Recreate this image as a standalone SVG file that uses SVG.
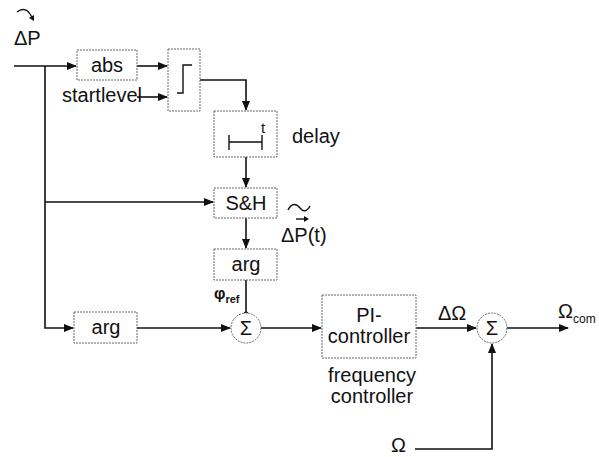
<svg xmlns="http://www.w3.org/2000/svg" width="599" height="457" viewBox="0 0 599 457">
<defs>
<marker id="ah" markerWidth="10" markerHeight="8" refX="9" refY="4" orient="auto" markerUnits="userSpaceOnUse">
<path d="M0,0 L10,4 L0,8 Z" fill="#111"/>
</marker>
<style>
.box{fill:#fff;stroke:#666;stroke-width:1;stroke-dasharray:2 1}
.ln{fill:none;stroke:#111;stroke-width:1.6}
.t{font-family:"Liberation Sans",Arial,sans-serif;font-size:20px;fill:#111}
.c{text-anchor:middle}
.sym{fill:none;stroke:#111;stroke-width:1.4}
</style>
</defs>
<rect width="599" height="457" fill="#fff"/>

<g id="connectors">
<path class="ln" d="M14,66 H76" marker-end="url(#ah)"/>
<path class="ln" d="M45,66 V328 H73" marker-end="url(#ah)"/>
<path class="ln" d="M45,202 H213" marker-end="url(#ah)"/>
<path class="ln" d="M137,66 H167" marker-end="url(#ah)"/>
<path class="ln" d="M137,97 H167" marker-end="url(#ah)"/>
<path class="ln" d="M200,80 H246 V110" marker-end="url(#ah)"/>
<path class="ln" d="M246,157 V187" marker-end="url(#ah)"/>
<path class="ln" d="M246,218 V248" marker-end="url(#ah)"/>
<path class="ln" d="M246,280 V313"/>
<circle cx="246" cy="314" r="2.5" fill="#111"/>
<path class="ln" d="M137,328 H230" marker-end="url(#ah)"/>
<path class="ln" d="M261,328 H321" marker-end="url(#ah)"/>
<path class="ln" d="M416,328 H476" marker-end="url(#ah)"/>
<path class="ln" d="M507,328 H568" marker-end="url(#ah)"/>
<path class="ln" d="M415,449 H492 V344" marker-end="url(#ah)"/>
</g>

<g id="input">
<path class="sym" d="M17,12 C22,8 27,9 30,14 L33,19"/>
<path d="M29,18 L34,21 L34,15 Z" fill="#111"/>
<text class="t" x="14" y="45">ΔP</text>
</g>

<g id="abs">
<rect class="box" x="77" y="50" width="60" height="30"/>
<text class="t c" x="107" y="72">abs</text>
</g>

<text class="t" x="62" y="102">startlevel</text>

<g id="switch">
<rect class="box" x="168" y="49" width="32" height="62"/>
<path class="sym" d="M177,93 H183 V65 H192"/>
</g>

<g id="delay">
<rect class="box" x="214" y="111" width="63" height="46"/>
<path class="sym" d="M229,142 H262 M229,135 V150 M262,135 V150"/>
<text class="t" x="261" y="133" style="font-size:15px">t</text>
<text class="t" x="292" y="143">delay</text>
</g>

<g id="sh">
<rect class="box" x="214" y="188" width="63" height="30"/>
<text class="t c" x="246" y="210">S&amp;H</text>
<path class="sym" d="M288,210 C292,202 297,204 300,208 C303,212 307,212 310,206"/>
<text class="t" x="281" y="242">ΔP(t)</text>
<path class="sym" d="M296,219 H307"/>
<path d="M304,216 L309,219 L304,222 Z" fill="#111"/>
</g>

<g id="arg1">
<rect class="box" x="214" y="249" width="63" height="31"/>
<text class="t c" x="246" y="271">arg</text>
<text class="t" x="214" y="299" style="font-size:16px;font-weight:bold">φ<tspan dy="4" style="font-size:11px">ref</tspan></text>
</g>

<g id="arg2">
<rect class="box" x="74" y="312" width="63" height="31"/>
<text class="t c" x="106" y="334">arg</text>
</g>

<g id="sum1">
<circle class="box" cx="246" cy="328" r="15"/>
<text class="t c" x="246" y="335">Σ</text>
</g>

<g id="pi">
<rect class="box" x="322" y="295" width="94" height="63"/>
<text class="t c" x="369" y="322">PI-</text>
<text class="t c" x="369" y="343">controller</text>
<text class="t c" x="372" y="382">frequency</text>
<text class="t c" x="372" y="403">controller</text>
</g>

<g id="sum2">
<circle class="box" cx="492" cy="328" r="15"/>
<text class="t c" x="492" y="335">Σ</text>
<text class="t" x="438" y="320">ΔΩ</text>
</g>

<g id="output">
<text class="t" x="558" y="318">Ω<tspan dy="5" style="font-size:12px">com</tspan></text>
</g>

<g id="omega">
<text class="t" x="391" y="452">Ω</text>
</g>
</svg>
